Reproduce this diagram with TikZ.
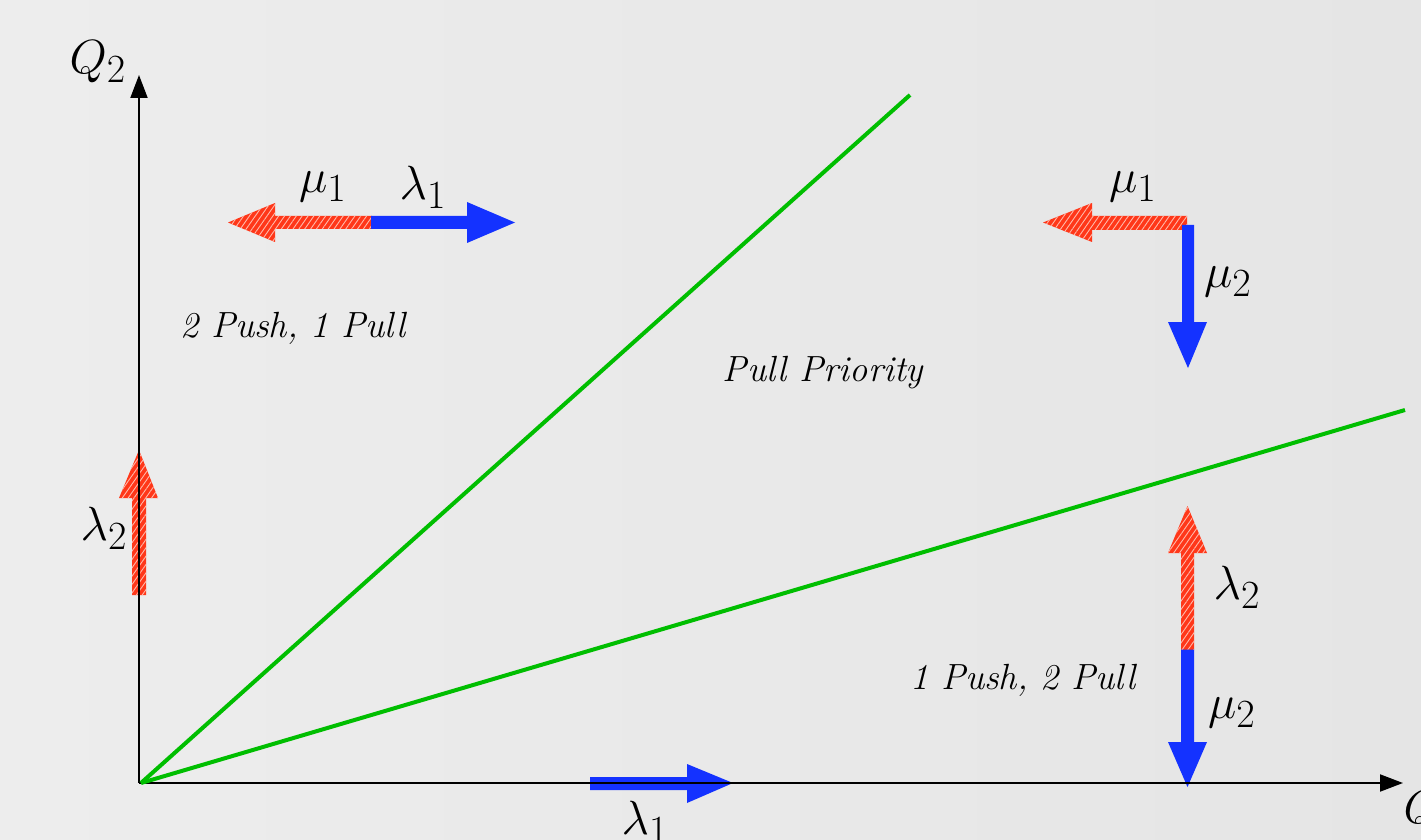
\RequirePackage{fix-cm}
\documentclass[tikz,border=0pt]{standalone}
\usetikzlibrary{arrows.meta,patterns.meta}
\DeclareMathSizes{24}{24}{20}{16}
\definecolor{bgL}{RGB}{237,237,237}
\definecolor{bgR}{RGB}{229,229,229}
\definecolor{lineG}{RGB}{0,190,0}
\definecolor{arrB}{RGB}{20,50,255}
\definecolor{arrR}{RGB}{255,55,25}
\definecolor{hatch}{RGB}{255,185,170}
\tikzset{
  bluearr/.style={fill=arrB, draw=none},
  redarr/.style={fill=arrR, draw=none, postaction={pattern={Lines[angle=55,distance=2.4pt,line width=0.45pt]}, pattern color=hatch}},
  axis/.style={line width=1pt, -{Triangle[length=11.5pt,width=8.5pt]}},
  sep/.style={line width=2pt, lineG},
  region/.style={font=\fontsize{18.2}{22}\selectfont\itshape},
  lab/.style={font=\fontsize{24}{28}\selectfont, inner sep=0pt}
}
\begin{document}
\begin{tikzpicture}[x=0.5pt,y=-0.5pt]
\useasboundingbox (0,0) rectangle (1421,840);
\clip (0,0) rectangle (1421,840);
\shade[left color=bgL, right color=bgR] (0,0) rectangle (1421,840);

% coordinates
\coordinate (O) at (139,783);
\coordinate (Ytop) at (139,75);
\coordinate (Xend) at (1403,783);
\coordinate (O2) at (141,783);
\coordinate (G1) at (910,95);
\coordinate (G2) at (1405,410);

% top-left arrows
\path[redarr] (372,216) -- (275,216) -- (275,203) -- (228,222.5) -- (275,242) -- (275,229) -- (372,229) -- cycle;
\path[bluearr] (371,216) -- (467,216) -- (467,202) -- (515,222.5) -- (467,243) -- (467,229) -- (371,229) -- cycle;

% left lambda2 arrow
\path[redarr] (132,595) -- (132,498) -- (119,498) -- (139,450) -- (158,498) -- (146,498) -- (146,595) -- cycle;

% top-right arrows
\path[redarr] (1187,216) -- (1092,216) -- (1092,203) -- (1043,222.5) -- (1092,242) -- (1092,230) -- (1187,230) -- cycle;
\path[bluearr] (1182,225) -- (1182,322) -- (1168,322) -- (1188,368) -- (1207,322) -- (1194,322) -- (1194,225) -- cycle;

% bottom-right arrows
\path[redarr] (1181,650) -- (1181,553) -- (1168,553) -- (1187.5,506) -- (1207,553) -- (1194,553) -- (1194,650) -- cycle;
\path[bluearr] (1181,649.5) -- (1181,742) -- (1168,742) -- (1187.5,787) -- (1207,742) -- (1194,742) -- (1194,649.5) -- cycle;

% bottom lambda1 arrow
\path[bluearr] (590,777) -- (687,777) -- (687,764) -- (733,783) -- (687,803) -- (687,790) -- (590,790) -- cycle;

% axes
\draw[axis] (O) -- (Ytop);
\draw[axis] (O) -- (Xend);

% separating lines
\draw[sep] (O2) -- (G1);
\draw[sep] (O2) -- (G2);

% labels
\node[lab] (q2) at (98,62) {$Q_2$};
\node[lab] (q1) at (1432,812) {$Q_1$};
\node[lab] (m1a) at (323,187) {$\mu_1$};
\node[lab] (l1a) at (423,187) {$\lambda_1$};
\node[lab] (l2a) at (104,528) {$\lambda_2$};
\node[lab] (m1b) at (1133,187) {$\mu_1$};
\node[lab] (m2b) at (1228,282) {$\mu_2$};
\node[lab] (l2b) at (1237,587) {$\lambda_2$};
\node[lab] (m2c) at (1232,713) {$\mu_2$};
\node[lab] (l1b) at (645,822) {$\lambda_1$};

\node[region] (r1) at (293,328) {2 Push, 1 Pull};
\node[region] (r2) at (823,373) {Pull Priority};
\node[region] (r3) at (1023,680) {1 Push, 2 Pull};
\end{tikzpicture}
\end{document}
